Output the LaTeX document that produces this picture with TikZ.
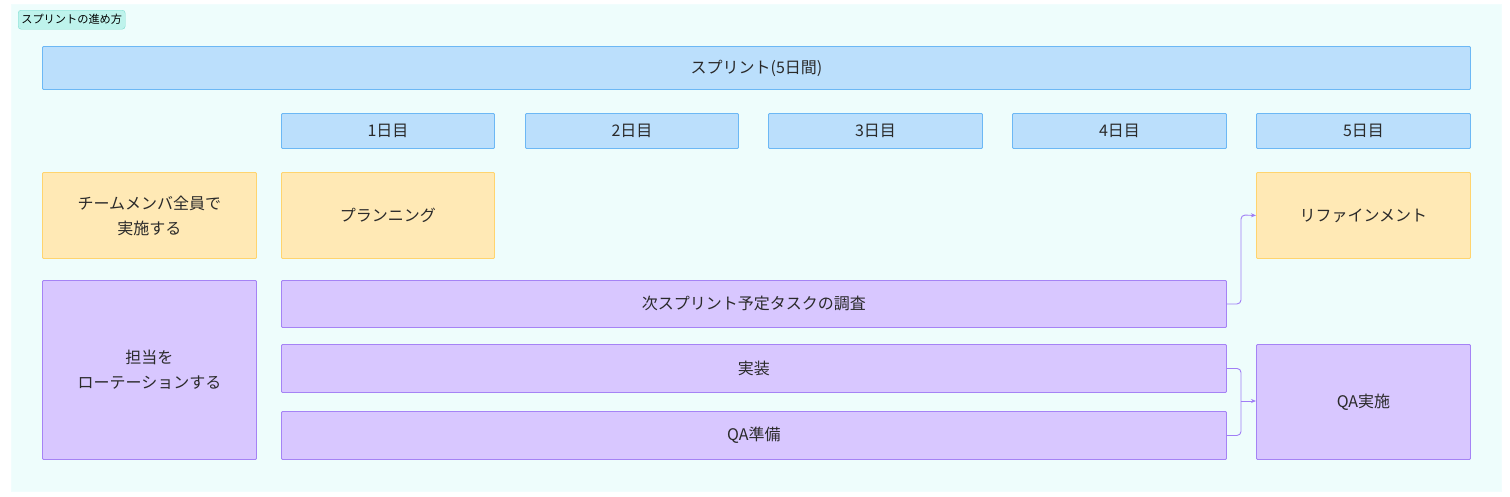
\documentclass[tikz,border=0pt]{standalone}
\usepackage{fontspec}
\setmainfont{Noto Sans CJK JP}
\usetikzlibrary{arrows.meta}
\definecolor{bgc}{HTML}{EEFDFC}
\definecolor{tagf}{HTML}{BEF3EC}
\definecolor{tagd}{HTML}{7EDCD0}
\definecolor{bluef}{HTML}{BBDFFC}
\definecolor{blued}{HTML}{6CB8F5}
\definecolor{yelf}{HTML}{FFE9B5}
\definecolor{yeld}{HTML}{FFD46E}
\definecolor{purf}{HTML}{D8C7FF}
\definecolor{purd}{HTML}{A583F5}
\definecolor{txt}{HTML}{2A2A2A}
\definecolor{arr}{HTML}{A07EF5}
\tikzset{
  box/.style={draw, line width=0.9pt, inner sep=0pt, text=txt, font=\fontsize{16}{25}\selectfont, align=center, rounded corners=1pt},
  bluebox/.style={box, fill=bluef, draw=blued},
  yelbox/.style={box, fill=yelf, draw=yeld},
  purbox/.style={box, fill=purf, draw=purd},
  conn/.style={draw=arr, line width=0.9pt, rounded corners=4pt},
  conna/.style={conn, -{Stealth[length=5pt,width=4pt]}}
}
\newcommand{\bx}[6]{% name, style, x1, y1, x2, y2 -> text via next arg
  \node[#2, minimum width=#5-#3, minimum height=#6-#4, anchor=north west] (#1) at (#3,#4)}
\begin{document}
\begin{tikzpicture}[x=1pt,y=-1pt]
\useasboundingbox (0,0) rectangle (1510,496);
\fill[white] (0,0) rectangle (1510,496);
\node[draw=bgc!80!white, fill=bgc, minimum width=1490pt, minimum height=487pt, anchor=north west, inner sep=0pt] (bg) at (11,4) {};
\node[draw=tagd, fill=tagf, rounded corners=3pt, inner sep=0pt, minimum width=107pt, minimum height=19pt, anchor=north west, font=\fontsize{11.2}{13}\selectfont, text=black] (tag) at (18,10) {スプリントの進め方};
\bx{sprint}{bluebox}{42}{46}{1470}{89}{スプリント(5日間)};
\bx{d1}{bluebox}{281}{113}{494}{148}{1日目};
\bx{d2}{bluebox}{525}{113}{738}{148}{2日目};
\bx{d3}{bluebox}{768}{113}{982}{148}{3日目};
\bx{d4}{bluebox}{1012}{113}{1226}{148}{4日目};
\bx{d5}{bluebox}{1256}{113}{1470}{148}{5日目};
\bx{all}{yelbox}{42}{172}{256}{258}{チームメンバ全員で\\実施する};
\bx{plan}{yelbox}{281}{172}{494}{258}{プランニング};
\bx{refine}{yelbox}{1256}{172}{1470}{258}{リファインメント};
\bx{rot}{purbox}{42}{280}{256}{459}{担当を\\ローテーションする};
\bx{inv}{purbox}{281}{280}{1226}{327}{次スプリント予定タスクの調査};
\bx{impl}{purbox}{281}{344}{1226}{392}{実装};
\bx{qaprep}{purbox}{281}{411}{1226}{459}{QA準備};
\bx{qa}{purbox}{1256}{344}{1470}{459}{QA実施};
\coordinate (m) at (1241,401);
\draw[conna] (inv.east) -| (1241,215) -- (refine.west);
\draw[conn] (impl.east) -| (m);
\draw[conn] (qaprep.east) -| (m);
\draw[conna] (m) -- (qa.west |- m);
\end{tikzpicture}
\end{document}
